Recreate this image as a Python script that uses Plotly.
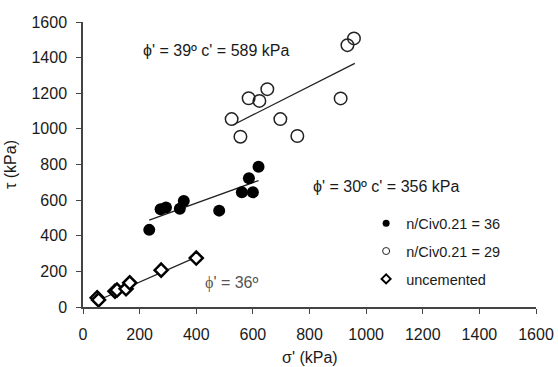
import plotly.graph_objects as go

# --- data ---
filled_x = [234, 274, 293, 342, 356, 481, 561, 586, 600, 620]
filled_y = [433, 549, 558, 552, 595, 541, 644, 723, 644, 788]
filled_line_x = [234, 620]
filled_line_y = [488, 710]

open_x = [525, 556, 585, 623, 651, 697, 757, 910, 934, 957]
open_y = [1055, 956, 1172, 1157, 1223, 1055, 960, 1171, 1470, 1508]
open_line_x = [530, 960]
open_line_y = [1022, 1368]

unc_x = [50, 55, 113, 120, 152, 165, 276, 400]
unc_y = [52, 40, 88, 95, 102, 136, 207, 275]
unc_line_x = [50, 400]
unc_line_y = [35, 280]

legend_names = ["n/Civ0.21 = 36", "n/Civ0.21 = 29", "uncemented"]
x_ticks = [0, 200, 400, 600, 800, 1000, 1200, 1400, 1600]
y_ticks = [0, 200, 400, 600, 800, 1000, 1200, 1400, 1600]

FONT = "Liberation Sans, Arial, sans-serif"
INK = "#1a1a1a"

fig = go.Figure()

# trend lines
for lx, ly in [(filled_line_x, filled_line_y), (open_line_x, open_line_y), (unc_line_x, unc_line_y)]:
    fig.add_trace(go.Scatter(x=lx, y=ly, mode="lines", line=dict(color="#222", width=1.3),
                             showlegend=False, hoverinfo="skip"))

# data markers
fig.add_trace(go.Scatter(x=filled_x, y=filled_y, mode="markers", showlegend=False,
                         marker=dict(symbol="circle", size=12, color="black",
                                     line=dict(color="black", width=0))))
fig.add_trace(go.Scatter(x=open_x, y=open_y, mode="markers", showlegend=False,
                         marker=dict(symbol="circle-open", size=12.5, color="#222",
                                     line=dict(width=1.5))))
fig.add_trace(go.Scatter(x=unc_x, y=unc_y, mode="markers", showlegend=False,
                         marker=dict(symbol="diamond", size=10, color="white",
                                     line=dict(color="black", width=2.5))))

# legend-only entries (smaller keys, as in the reference)
fig.add_trace(go.Scatter(x=[None], y=[None], mode="markers", name=legend_names[0],
                         legendgroup="a",
                         marker=dict(symbol="circle", size=7, color="black")))
fig.add_trace(go.Scatter(x=[None], y=[None], mode="markers", name=legend_names[1],
                         legendgroup="b",
                         marker=dict(symbol="circle-open", size=7, color="#222", line=dict(width=1))))
fig.add_trace(go.Scatter(x=[None], y=[None], mode="markers", name=legend_names[2],
                         legendgroup="c",
                         marker=dict(symbol="diamond", size=7, color="white",
                                     line=dict(color="black", width=2))))

ann_font = dict(family=FONT, size=16, color=INK)
fig.add_annotation(x=469, y=1442, text="ϕ' = 39º c' = 589 kPa", showarrow=False, font=ann_font)
fig.add_annotation(x=1069, y=676, text="ϕ' = 30º c' = 356 kPa", showarrow=False, font=ann_font)
fig.add_annotation(x=528, y=134, showarrow=False,
                   text="<span style='font-family:Liberation Serif'>ϕ</span>' = 36º",
                   font=dict(family=FONT, size=16, color="#555"))
# x-axis title
fig.add_annotation(x=0.5, y=0, xref="paper", yref="paper", yanchor="middle", yshift=-50,
                   text="σ' (kPa)", showarrow=False, font=ann_font)

axis_common = dict(showgrid=False, zeroline=False, showline=True, linecolor="#444", linewidth=1.5,
                   ticks="outside", ticklen=5, tickcolor="#444", tickwidth=1.2, automargin=False,
                   tickfont=dict(family=FONT, size=16, color=INK))

fig.update_layout(
    width=558, height=367,
    margin=dict(l=83, r=22, t=22, b=60),
    paper_bgcolor="white", plot_bgcolor="white",
    xaxis=dict(range=[0, 1600], tickvals=x_ticks, ticklabelstandoff=7, **axis_common),
    yaxis=dict(range=[0, 1600], tickvals=y_ticks, ticklabelstandoff=6,
               title=dict(text="τ (kPa)", standoff=11,
               font=dict(family=FONT, size=16, color=INK)), **axis_common),
    legend=dict(x=0.625, y=0.35, xanchor="left", yanchor="top", bgcolor="rgba(0,0,0,0)",
                font=dict(family=FONT, size=14.5, color=INK), tracegroupgap=6,
                itemwidth=30),
    showlegend=True,
)

fig.write_html("out.html")
